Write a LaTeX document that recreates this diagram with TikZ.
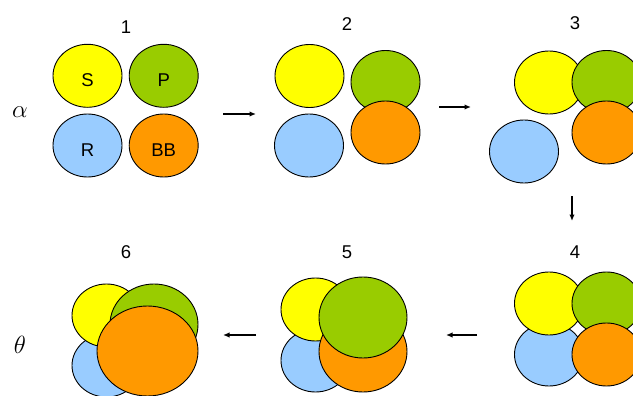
\documentclass[tikz,border=0pt]{standalone}
\usepackage{fontspec}
\setmainfont{Liberation Sans}
\usetikzlibrary{shapes.geometric,arrows.meta}
\definecolor{cyel}{HTML}{FFFF00}
\definecolor{cgrn}{HTML}{99CC00}
\definecolor{cblu}{HTML}{99CCFF}
\definecolor{corg}{HTML}{FF9900}
\tikzset{
  blob/.style={ellipse, draw=black, line width=0.9pt, inner sep=0pt},
  small/.style={blob, minimum width=69pt, minimum height=63pt},
  big/.style={blob, minimum width=88pt, minimum height=81pt},
  huge/.style={blob, minimum width=101pt, minimum height=90pt},
  lbl/.style={font=\fontsize{18.5}{20}\selectfont, inner sep=0pt},
  num/.style={font=\fontsize{18.5}{20}\selectfont, inner sep=0pt},
  greek/.style={font=\fontsize{23}{25}\selectfont, inner sep=0pt},
  flow/.style={line width=1.4pt, -{Latex[length=6.5pt,width=5.5pt]}}
}
\begin{document}
\begin{tikzpicture}[x=1pt,y=-1pt]
\useasboundingbox (0,0) rectangle (633,396);
\clip (0,0) rectangle (633,396);
% labels
\node[greek] (alpha) at (20,112) {$\alpha$};
\node[greek] (theta) at (20,345) {$\theta$};
\node[num] (n1) at (126,27.5) {1};
\node[num] (n2) at (347,24.5) {2};
\node[num] (n3) at (575,23.5) {3};
\node[num] (n4) at (575,252) {4};
\node[num] (n5) at (347,252) {5};
\node[num] (n6) at (126,252) {6};
% panel 1
\node[small, fill=cyel] (s1) at (87.5,75.8) {};
\node[small, fill=cgrn] (p1) at (163.7,75.8) {};
\node[small, fill=cblu] (r1) at (87.5,145.5) {};
\node[small, fill=corg] (b1) at (163.7,145.5) {};
\node[lbl] (ts) at ([yshift=-4.2pt]s1.center) {S};
\node[lbl] (tp) at ([yshift=-4.2pt]p1.center) {P};
\node[lbl] (tr) at ([yshift=-4.2pt]r1.center) {R};
\node[lbl] (tb) at ([yshift=-4.2pt]b1.center) {BB};
% panel 2
\node[small, fill=cyel] (s2) at (309.5,76) {};
\node[small, fill=cblu] (r2) at (309,145.5) {};
\node[small, fill=cgrn] (p2) at (385.5,82) {};
\node[small, fill=corg] (b2) at (385.5,132.5) {};
% panel 3
\node[small, fill=cyel] (s3) at (549,82.5) {};
\node[small, fill=cblu] (r3) at (524,151.5) {};
\node[small, fill=cgrn] (p3) at (606.5,82) {};
\node[small, fill=corg] (b3) at (606.5,132.5) {};
% panel 4
\node[small, fill=cblu] (r4) at (549,354.5) {};
\node[small, fill=cyel] (s4) at (549,303.5) {};
\node[small, fill=cgrn] (p4) at (606.5,303.5) {};
\node[small, fill=corg] (b4) at (606.5,354.5) {};
% panel 5
\node[small, fill=cblu] (r5) at (315.5,360.5) {};
\node[small, fill=cyel] (s5) at (315.5,309.5) {};
\node[big, fill=corg] (b5) at (363,351.5) {};
\node[big, fill=cgrn] (p5) at (363,317.5) {};
% panel 6
\node[small, fill=cblu] (r6) at (106.5,365.5) {};
\node[small, fill=cyel] (s6) at (106.5,315.5) {};
\node[big, fill=cgrn] (p6) at (154,324.5) {};
\node[huge, fill=corg] (b6) at (147.5,351) {};
% arrows
\coordinate (a1s) at (223,114); \coordinate (a1e) at (256,114);
\coordinate (a2s) at (439,107); \coordinate (a2e) at (471,107);
\coordinate (a3s) at (572,196); \coordinate (a3e) at (572,221);
\coordinate (a4s) at (477,335); \coordinate (a4e) at (446,335);
\coordinate (a5s) at (256,335); \coordinate (a5e) at (223,335);
\draw[flow] (a1s) -- (a1e);
\draw[flow] (a2s) -- (a2e);
\draw[flow] (a3s) -- (a3e);
\draw[flow] (a4s) -- (a4e);
\draw[flow] (a5s) -- (a5e);
\end{tikzpicture}
\end{document}
